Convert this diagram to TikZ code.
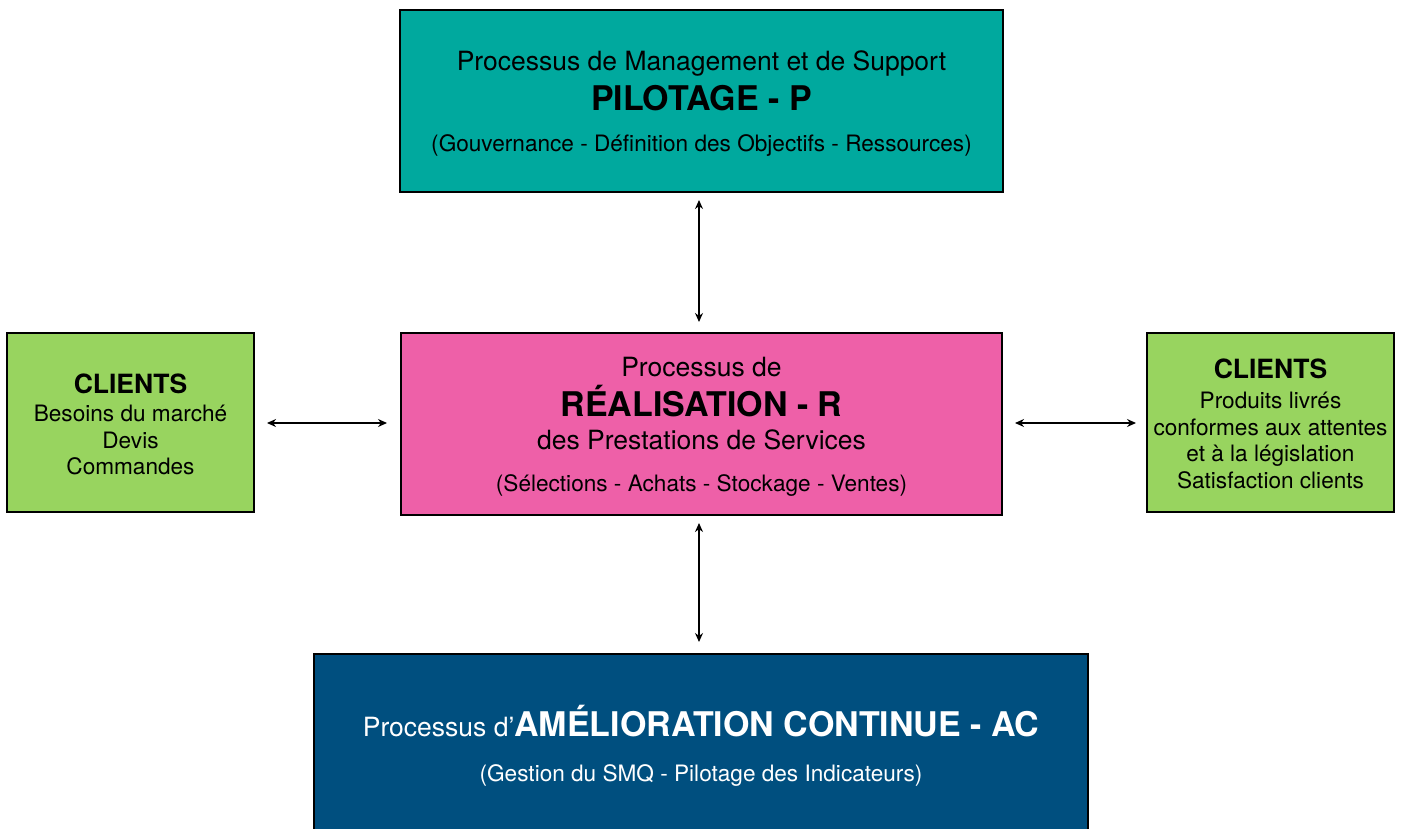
\documentclass[tikz,border=0pt]{standalone}
\usepackage{fontspec}
\setmainfont{TeX Gyre Heros}
\usetikzlibrary{arrows.meta}

\definecolor{pilotcol}{HTML}{00A99E}
\definecolor{realcol}{HTML}{EE60A8}
\definecolor{clientcol}{HTML}{98D45F}
\definecolor{amelcol}{HTML}{004F7F}

\tikzset{
  box/.style={draw=black, line width=2pt, inner sep=0pt},
  txt/.style={anchor=base, inner sep=0pt, align=center},
  link/.style={{Stealth[length=9pt,width=8pt]}-{Stealth[length=9pt,width=8pt]}, line width=1.4pt}
}
\newcommand{\regtxt}{\fontsize{26.5}{30}\selectfont}
\newcommand{\bigtxt}{\fontsize{34}{40}\selectfont\bfseries}
\newcommand{\smalltxt}{\fontsize{22.6}{26}\selectfont}

\begin{document}
\begin{tikzpicture}[x=1pt,y=-1pt]
    \useasboundingbox (0,0) rectangle (1403,829);

      % boxes
      \node[box, fill=pilotcol, minimum width=603pt, minimum height=182pt] (pilot) at (701.5,101) {};
      \node[box, fill=realcol, minimum width=601pt, minimum height=182pt] (real) at (701.5,424) {};
      \node[box, fill=clientcol, minimum width=247pt, minimum height=179pt] (besoins) at (130.5,422.5) {};
      \node[box, fill=clientcol, minimum width=247pt, minimum height=179pt] (produits) at (1270.5,422.5) {};
      \node[box, fill=amelcol, minimum width=774pt, minimum height=180pt] (amel) at (701,744) {};

      % pilotage
      \node[txt] (pilotA) at (701.5,71) {\regtxt Processus de Management et de Support};
      \node[txt] (pilotB) at (701.5,111) {\bigtxt PILOTAGE - P};
      \node[txt] (pilotC) at (701.5,152) {\smalltxt (Gouvernance - Définition des Objectifs - Ressources)};

      % realisation
      \node[txt] (realA) at (701.5,376) {\regtxt Processus de};
      \node[txt] (realB) at (701.5,416) {\bigtxt RÉALISATION - R};
      \node[txt] (realC) at (701.5,449) {\regtxt des Prestations de Services};
      \node[txt] (realD) at (701.5,491) {\smalltxt (Sélections - Achats - Stockage - Ventes)};

      % clients
      \node[txt] (besoinsA) at (130.5,393) {\fontsize{26.5}{30}\selectfont\bfseries CLIENTS};
      \node[txt] (besoinsB) at (130.5,421) {\smalltxt Besoins du marché};
      \node[txt] (besoinsC) at (130.5,448) {\smalltxt Devis};
      \node[txt] (besoinsD) at (130.5,474) {\smalltxt Commandes};

      \node[txt] (produitsA) at (1270.5,378) {\fontsize{26.5}{30}\selectfont\bfseries CLIENTS};
      \node[txt] (produitsB) at (1270.5,408) {\smalltxt Produits livrés};
      \node[txt] (produitsC) at (1270.5,435) {\smalltxt conformes aux attentes};
      \node[txt] (produitsD) at (1270.5,461) {\smalltxt et à la législation};
      \node[txt] (produitsE) at (1270.5,488) {\smalltxt Satisfaction clients};

      % amelioration
      \node[txt, text=white] (amelA) at (701,736) {\regtxt Processus d’\bigtxt AMÉLIORATION CONTINUE - AC};
      \node[txt, text=white] (amelB) at (701,781) {\smalltxt (Gestion du SMQ - Pilotage des Indicateurs)};

      % links
      \draw[link, shorten <=7pt, shorten >=10pt] ([xshift=-2.5pt]pilot.south) -- ([xshift=-2.5pt]real.north);
      \draw[link, shorten <=7pt, shorten >=11pt] ([xshift=-2.5pt]real.south) -- ([xshift=-2pt]amel.north);
      \draw[link, shorten <=12pt, shorten >=13pt] (besoins.east |- 0,423) -- (real.west |- 0,423);
      \draw[link, shorten <=12pt, shorten >=10pt] (real.east |- 0,423) -- (produits.west |- 0,423);
  \end{tikzpicture}
\end{document}
